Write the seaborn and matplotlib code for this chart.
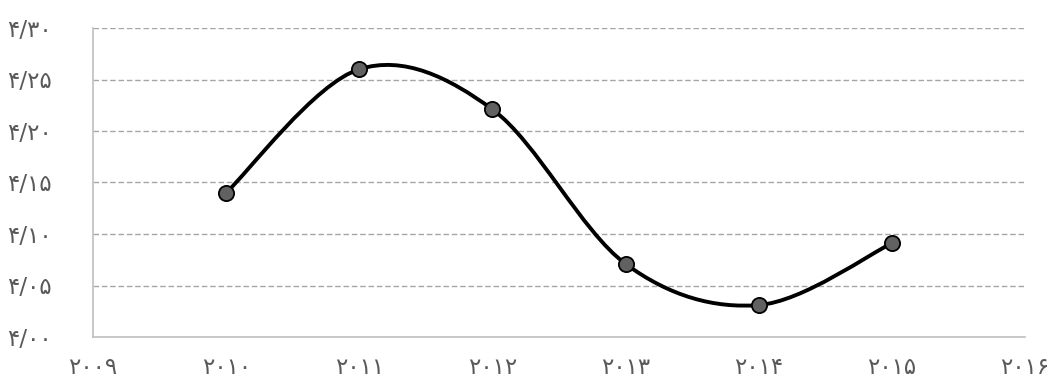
import numpy as np
import matplotlib
matplotlib.use("Agg")
import matplotlib.pyplot as plt
from matplotlib.path import Path
from matplotlib.patches import PathPatch
import seaborn as sns
import pandas as pd

years = [2010, 2011, 2012, 2013, 2014, 2015]
values = [4.140, 4.260, 4.221, 4.071, 4.031, 4.091]
x_ticks = [2009, 2010, 2011, 2012, 2013, 2014, 2015, 2016]
y_ticks = [4.00, 4.05, 4.10, 4.15, 4.20, 4.25, 4.30]

PERSIAN = str.maketrans("0123456789", "۰۱۲۳۴۵۶۷۸۹")


def fa(s):
    return s.translate(PERSIAN)


sns.set_theme(style="white")
plt.rcParams["font.family"] = ["DejaVu Sans"]

fig = plt.figure(figsize=(10.54, 3.79), dpi=100)
ax = fig.add_axes([93 / 1054, 1 - 337 / 379, (1025 - 93) / 1054, (337 - 28) / 379])

df = pd.DataFrame({"year": years, "value": values})

# smooth curve (Excel-style Catmull-Rom bezier) built from the data
pts = np.column_stack([df["year"].to_numpy(float), df["value"].to_numpy(float)])
n = len(pts)
verts = [tuple(pts[0])]
codes = [Path.MOVETO]
for i in range(n - 1):
    p0 = pts[i - 1] if i > 0 else pts[i]
    p1 = pts[i]
    p2 = pts[i + 1]
    p3 = pts[i + 2] if i + 2 < n else pts[i + 1]
    c1 = p1 + (p2 - p0) / 6.0
    c2 = p2 - (p3 - p1) / 6.0
    verts += [tuple(c1), tuple(c2), tuple(p2)]
    codes += [Path.CURVE4] * 3
ax.add_patch(PathPatch(Path(verts, codes), fill=False, edgecolor="black",
                       lw=2.8, zorder=3, capstyle="round", joinstyle="round"))

sns.scatterplot(data=df, x="year", y="value", ax=ax, s=120, color="#616161",
                edgecolor="black", linewidth=1.3, zorder=4, legend=False)

ax.set_xlim(2009, 2016)
ax.set_ylim(4.00, 4.30)
ax.set_xticks(x_ticks)
ax.set_xticklabels([fa(str(v)) for v in x_ticks])
ax.set_yticks(y_ticks)
ax.set_yticklabels([fa(f"{v:.2f}").replace(".", "/") for v in y_ticks])
ax.tick_params(axis="both", length=0, labelsize=16.5, colors="#595959")
ax.tick_params(axis="y", pad=30)
ax.tick_params(axis="x", pad=14)

for y in y_ticks[1:]:
    ax.axhline(y, color="#a6a6a6", lw=1.0, ls=(0, (4, 2)), zorder=1)

for side in ["top", "right"]:
    ax.spines[side].set_visible(False)
for side in ["left", "bottom"]:
    ax.spines[side].set_color("#bfbfbf")
    ax.spines[side].set_linewidth(1.2)

ax.set_xlabel("")
ax.set_ylabel("")

fig.savefig("out.png", dpi=100)
